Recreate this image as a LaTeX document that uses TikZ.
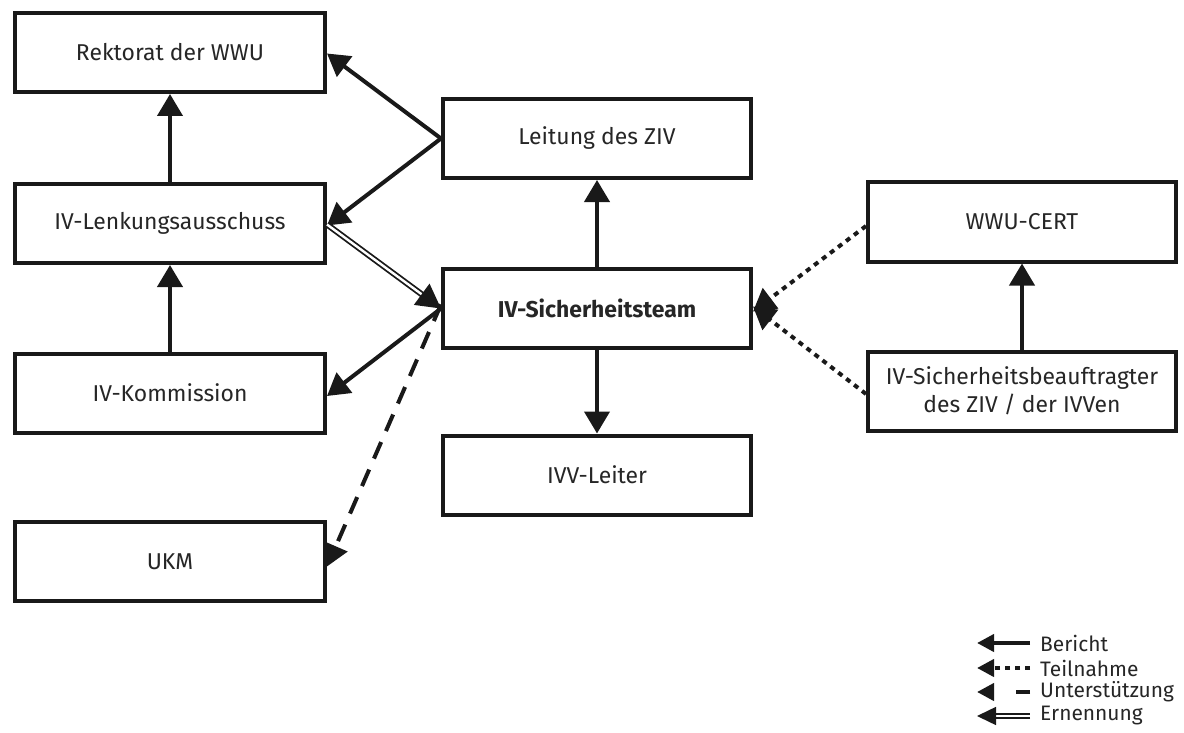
\documentclass[tikz,border=0pt]{standalone}
\usepackage{fontspec}
\setmainfont{Fira Sans}
\usetikzlibrary{arrows.meta}
\begin{document}
\begin{tikzpicture}[x=1bp,y=-1bp,
  box/.style={draw=black!90, line width=4bp, rectangle, inner sep=0pt,
    minimum width=310bp, minimum height=79bp, align=center,
    font=\fontsize{23}{28}\selectfont, text=black!85},
  rep/.style={line width=4bp, black!90, -{Triangle[length=22bp,width=25bp]}},
  part/.style={rep, dash pattern=on 5bp off 5bp},
  supp/.style={rep, dash pattern=on 18bp off 12bp},
  appt/.style={black!90, double, line width=1.8bp, double distance=2.4bp,
    -{Triangle[length=24bp,width=26bp]}},
  legrep/.style={line width=4bp, black!90, -{Triangle[length=17bp,width=17bp]}},
  legtxt/.style={anchor=west, inner sep=0pt, font=\fontsize{21}{23}\selectfont, text=black!85}
]
\useasboundingbox (0,0) rectangle (1184,733);
\fill[white] (0,0) rectangle (1184,733);

% left column
\node[box] (rek) at (170,52.5) {Rektorat der WWU};
\node[box] (lenk) at (170,223.5) {IV-Lenkungsausschuss};
\node[box] (komm) at (170,393) {IV-Kommission};
\node[box] (ukm) at (170,561.5) {UKM};
% middle column
\node[box, minimum width=308bp] (ziv) at (597,138.5) {Leitung des ZIV};
\node[box, minimum width=308bp] (team) at (597,308.5) {\bfseries IV-Sicherheitsteam};
\node[box, minimum width=308bp] (ivv) at (597,475) {IVV-Leiter};
% right column
\node[box, minimum width=308bp] (cert) at (1022,222) {WWU-CERT};
\node[box, minimum width=308bp] (beauf) at (1022,391) {IV-Sicherheitsbeauftragter\\des ZIV / der IVVen};

% connectors
\draw[rep] (lenk.north) -- (rek.south);
\draw[rep] (komm.north) -- (lenk.south);
\draw[rep] (ziv.west) -- ([yshift=-1bp]rek.east);
\draw[rep] (ziv.west) -- ([yshift=-2bp]lenk.east);
\draw[appt] ([yshift=-1bp]lenk.east) -- (team.west);
\draw[rep] (team.west) -- ([yshift=-3bp]komm.east);
\draw[supp] ([yshift=4bp]team.west) -- ([yshift=-5bp]ukm.east);
\draw[rep] (team.north) -- (ziv.south);
\draw[rep] (team.south) -- (ivv.north);
\draw[rep] (beauf.north) -- (cert.south);
\draw[part] ([yshift=-4bp]cert.west) -- ([yshift=-3bp]team.east);
\draw[part] ([yshift=-3bp]beauf.west) -- ([yshift=2bp]team.east);

% legend
\coordinate (l1a) at (1030,643); \coordinate (l1b) at (977,643);
\coordinate (l2a) at (1030,668); \coordinate (l2b) at (977,668);
\coordinate (l3a) at (1030,692); \coordinate (l3b) at (977,692);
\coordinate (l4a) at (1030,716); \coordinate (l4b) at (977,716);
\draw[legrep] (l1a) -- (l1b);
\draw[legrep, dash pattern=on 5bp off 5bp] (l2a) -- (l2b);
\draw[legrep, dash pattern=on 14bp off 30bp] (l3a) -- (l3b);
\draw[black!90, double, line width=1.5bp, double distance=2.2bp, -{Triangle[length=19bp,width=18bp]}] (l4a) -- (l4b);
\node[legtxt] (t1) at (1040,643) {Bericht};
\node[legtxt] (t2) at (1040,668) {Teilnahme};
\node[legtxt] (t3) at (1040,692) {Unterstützung};
\node[legtxt] (t4) at (1040,716) {Ernennung};
\end{tikzpicture}
\end{document}
